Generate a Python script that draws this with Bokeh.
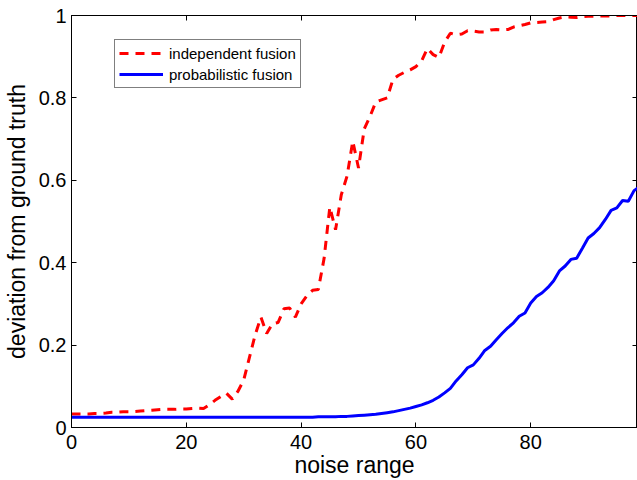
from bokeh.plotting import figure
from bokeh.models import LinearAxis, Legend, LegendItem, Range1d, FixedTicker
from bokeh.embed import file_html
from bokeh.resources import INLINE

# ---- data ----
noise = list(range(0, 100))
independent = [
    0.033, 0.033, 0.033, 0.033, 0.034, 0.034, 0.035, 0.037, 0.037, 0.038,
    0.038, 0.039, 0.040, 0.041, 0.042, 0.043, 0.044, 0.044, 0.044, 0.045,
    0.045, 0.046, 0.047, 0.046, 0.055, 0.066, 0.075, 0.083, 0.069, 0.088,
    0.115, 0.170, 0.225, 0.268, 0.228, 0.252, 0.255, 0.288, 0.290, 0.268,
    0.300, 0.320, 0.333, 0.335, 0.410, 0.535, 0.480, 0.565, 0.610, 0.695,
    0.630, 0.725, 0.755, 0.790, 0.795, 0.800, 0.845, 0.855, 0.862, 0.868,
    0.876, 0.890, 0.920, 0.905, 0.898, 0.935, 0.957, 0.953, 0.955, 0.963,
    0.962, 0.960, 0.960, 0.965, 0.966, 0.965, 0.966, 0.972, 0.975, 0.978,
    0.982, 0.983, 0.984, 0.985, 0.990, 0.994, 0.997, 0.996, 0.995, 0.997,
    0.998, 0.998, 0.999, 0.999, 0.999, 1.000, 1.000, 1.000, 1.000, 1.000,
]
probabilistic = [
    0.025, 0.025, 0.025, 0.025, 0.025, 0.025, 0.025, 0.025, 0.025, 0.025,
    0.025, 0.025, 0.025, 0.025, 0.025, 0.025, 0.025, 0.025, 0.025, 0.025,
    0.025, 0.025, 0.025, 0.025, 0.025, 0.025, 0.025, 0.025, 0.025, 0.025,
    0.025, 0.025, 0.025, 0.025, 0.025, 0.025, 0.025, 0.025, 0.025, 0.025,
    0.025, 0.025, 0.025, 0.026, 0.026, 0.026, 0.026, 0.027, 0.027, 0.028,
    0.029, 0.030, 0.031, 0.032, 0.034, 0.036, 0.038, 0.041, 0.044, 0.047,
    0.051, 0.055, 0.060, 0.066, 0.074, 0.084, 0.095, 0.113, 0.128, 0.145,
    0.152, 0.168, 0.187, 0.197, 0.213, 0.228, 0.242, 0.254, 0.270, 0.278,
    0.302, 0.318, 0.327, 0.340, 0.356, 0.380, 0.392, 0.408, 0.411, 0.435,
    0.460, 0.471, 0.485, 0.505, 0.527, 0.533, 0.551, 0.549, 0.575, 0.585,
]
series_names = ["independent fusion", "probabilistic fusion"]
x_ticks = [0, 20, 40, 60, 80]
y_ticks = [0, 0.2, 0.4, 0.6, 0.8, 1.0]
y_tick_labels = ["0", "0.2", "0.4", "0.6", "0.8", "1"]
x_title = "noise range"
y_title = "deviation from ground truth"

FONT = "Liberation Sans"
X_MAX = 98.6

p = figure(width=637, height=480, output_backend="svg", toolbar_location=None,
           x_range=Range1d(0, X_MAX), y_range=Range1d(0, 1),
           min_border_left=70, min_border_top=15, min_border_right=0,
           min_border_bottom=52)
p.grid.visible = False
p.outline_line_color = "black"
p.background_fill_color = "white"
p.border_fill_color = "white"

r_ind = p.line(noise, independent, line_color="#ff0000", line_width=3,
               line_dash="9 7")
r_prob = p.line(noise, probabilistic, line_color="#0000ff", line_width=3)

for ax in (p.xaxis[0], p.yaxis[0]):
    ax.major_tick_in = 5
    ax.major_tick_out = 0
    ax.minor_tick_line_color = None
    ax.axis_line_color = "black"
    ax.major_tick_line_color = "black"
    ax.major_label_text_font = FONT
    ax.major_label_text_font_size = "20px"
    ax.major_label_text_color = "black"
    ax.axis_label_text_font = FONT
    ax.axis_label_text_font_size = "23px"
    ax.axis_label_text_font_style = "normal"
    ax.axis_label_text_color = "black"
    ax.major_label_standoff = 5

p.xaxis[0].ticker = FixedTicker(ticks=x_ticks)
p.yaxis[0].ticker = FixedTicker(ticks=y_ticks)
p.yaxis[0].major_label_overrides = {t: l for t, l in zip(y_ticks, y_tick_labels)}
p.xaxis[0].major_label_standoff = 7
p.xaxis[0].axis_label = x_title
p.xaxis[0].axis_label_standoff = 0
p.yaxis[0].axis_label = y_title
p.yaxis[0].axis_label_standoff = 6

top = LinearAxis(ticker=FixedTicker(ticks=x_ticks), major_tick_in=5, major_tick_out=0,
                 minor_tick_line_color=None, major_label_standoff=0,
                 major_label_overrides={t: "" for t in x_ticks},
                 axis_line_color="black")
p.add_layout(top, "above")
right = LinearAxis(ticker=FixedTicker(ticks=y_ticks), major_tick_in=5, major_tick_out=0,
                   minor_tick_line_color=None, major_label_standoff=0,
                   major_label_overrides={t: "" for t in y_ticks},
                   axis_line_color=None)
p.add_layout(right, "right")

legend = Legend(items=[LegendItem(label=series_names[0], renderers=[r_ind]),
                       LegendItem(label=series_names[1], renderers=[r_prob])],
                location=(43, 339), orientation="vertical",
                label_text_font=FONT, label_text_font_size="15px",
                label_text_color="black",
                glyph_width=44, glyph_height=18, label_height=18,
                label_standoff=6, spacing=3, padding=4, margin=0,
                border_line_color="black", border_line_width=1,
                background_fill_color="white", background_fill_alpha=1)
p.add_layout(legend, "center")

open("out.html", "w").write(file_html(p, INLINE))
